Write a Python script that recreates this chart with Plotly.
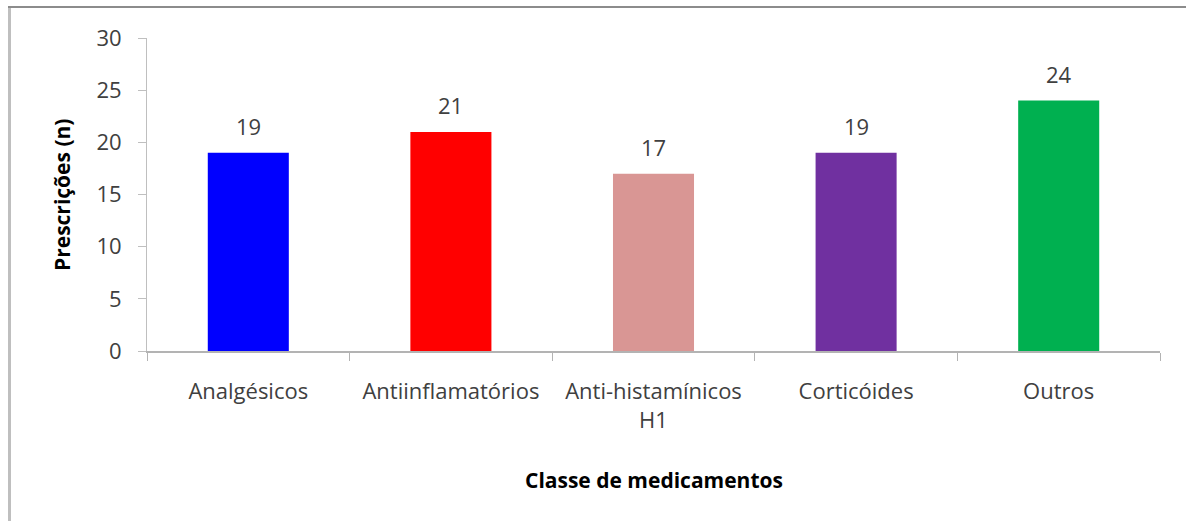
import plotly.graph_objects as go

categories = ["Analgésicos", "Antiinflamatórios", "Anti-histamínicos<br>H1", "Corticóides", "Outros"]
values = [19, 21, 17, 19, 24]
colors = ["#0000FF", "#FF0000", "#D99694", "#7030A0", "#00B050"]
y_ticks = [0, 5, 10, 15, 20, 25, 30]

W, H = 1186, 521
L, R, T, B = 147, 26, 38, 170
pw, ph = W - L - R, H - T - B

def px_x(p):
    return (p - L) / pw

def px_y(p):
    return (H - B - p) / ph

FONT = "Open Sans"
TXT = "#404040"
FS = 22

fig = go.Figure(go.Bar(
    x=categories, y=values,
    marker=dict(color=colors, line=dict(width=0)),
    width=0.4,
    hoverinfo="x+y",
))

for c, v in zip(categories, values):
    fig.add_annotation(x=c, y=v, text=str(v), showarrow=False, yanchor="middle",
                       yshift=27, font=dict(family=FONT, size=FS, color=TXT))

fig.update_layout(
    width=W, height=H,
    margin=dict(l=L, r=R, t=T, b=B),
    paper_bgcolor="white", plot_bgcolor="white",
    showlegend=False,
    font=dict(family=FONT, size=FS, color=TXT),
    xaxis=dict(
        showline=True, linecolor="#B3B3B3", linewidth=2,
        ticks="outside", ticklen=8, tickcolor="#B3B3B3", tickwidth=1,
        tickson="boundaries", showgrid=False,
        tickfont=dict(family=FONT, size=FS, color=TXT),
        ticklabelstandoff=20,
    ),
    yaxis=dict(
        range=[0, 30], tickvals=y_ticks,
        showline=True, linecolor="#BFBFBF", linewidth=1,
        ticks="outside", ticklen=8, tickcolor="#BFBFBF",
        showgrid=False, zeroline=False,
        tickfont=dict(family=FONT, size=FS, color=TXT),
        ticklabelstandoff=12,
    ),
    shapes=[
        dict(type="line", xref="paper", yref="paper",
             x0=px_x(9.5), x1=px_x(9.5), y0=px_y(7), y1=px_y(530),
             line=dict(color="#BFBFBF", width=3)),
        dict(type="line", xref="paper", yref="paper",
             x0=px_x(8), x1=px_x(1200), y0=px_y(7), y1=px_y(7),
             line=dict(color="#8C8C8C", width=2)),
    ],
)

fig.add_annotation(text="<b>Prescrições (n)</b>", textangle=-90, xref="paper", yref="paper",
                   x=px_x(62), y=px_y(195), xanchor="center", yanchor="middle", showarrow=False,
                   font=dict(family=FONT, size=21, color="#000000"))
fig.add_annotation(text="<b>Classe de medicamentos</b>", xref="paper", yref="paper",
                   x=px_x(654), y=px_y(480), xanchor="center", yanchor="middle", showarrow=False,
                   font=dict(family=FONT, size=21, color="#000000"))

fig.write_html("out.html", config={"displayModeBar": False},
               post_script="document.body.style.margin='0';document.body.style.padding='0';")
